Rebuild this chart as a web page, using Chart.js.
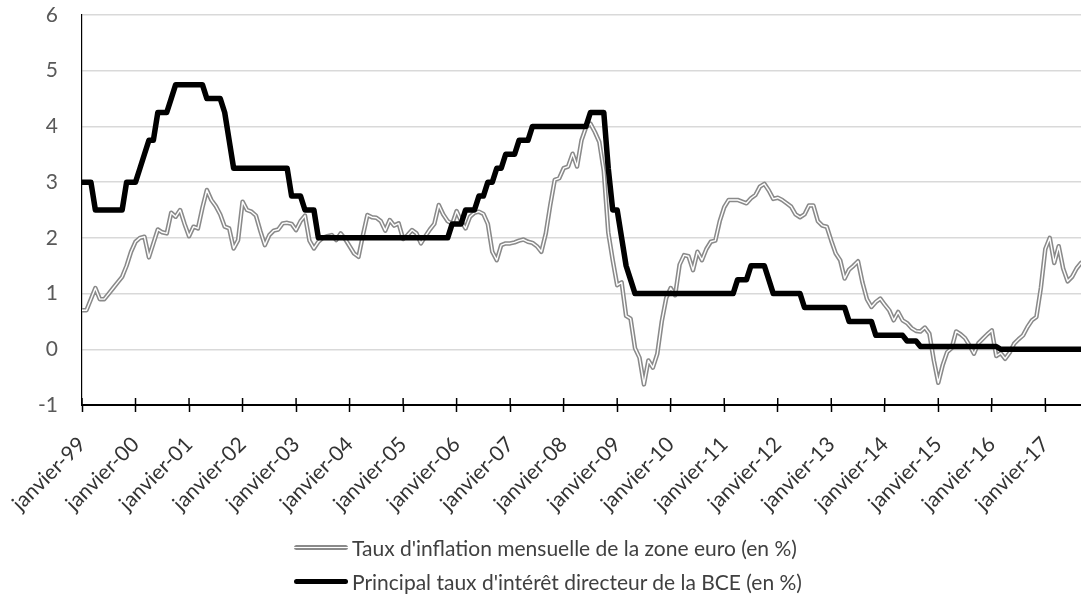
<!DOCTYPE html>
<html lang="fr">
<head>
<meta charset="utf-8">
<title>Inflation zone euro et taux directeur BCE</title>
<script src="https://cdn.jsdelivr.net/npm/chart.js@4.4.1/dist/chart.umd.min.js"></script>
<style>
  html, body { margin: 0; padding: 0; background: #fff; }
  #wrap { position: relative; width: 1081px; height: 607px; }
  #chart { display: block; }
  .legend { position: absolute; left: 294px; top: 0; font-family: Lato, sans-serif; font-size: 21px; color: #404040; }
  .legend .row { position: absolute; left: 0; height: 24px; white-space: nowrap; display: flex; align-items: center; }
  .legend .swatch { width: 54px; height: 5px; border-radius: 3px; margin-right: 4px; }
  .swatch.inflation { background: linear-gradient(#8a8a8a 0 33%, #fff 33% 67%, #8a8a8a 67%); }
  .swatch.bce { background: #000; }
</style>
</head>
<body>
<div id="wrap">
  <canvas id="chart" width="1081" height="607"></canvas>
  <div class="legend">
    <div class="row" style="top:535px"><span class="swatch inflation"></span><span>Taux d'inflation mensuelle de la zone euro (en %)</span></div>
    <div class="row" style="top:569px"><span class="swatch bce"></span><span>Principal taux d'intérêt directeur de la BCE (en %)</span></div>
  </div>
</div>
<script>
// mois de janvier 1999 a septembre 2017
const years = [1999, 2000, 2001, 2002, 2003, 2004, 2005, 2006, 2007, 2008, 2009, 2010, 2011, 2012, 2013, 2014, 2015, 2016, 2017];
const monthNames = ['janvier', 'février', 'mars', 'avril', 'mai', 'juin', 'juillet', 'août', 'septembre', 'octobre', 'novembre', 'décembre'];
const yearTicks = ['janvier-99', 'janvier-00', 'janvier-01', 'janvier-02', 'janvier-03', 'janvier-04', 'janvier-05', 'janvier-06', 'janvier-07', 'janvier-08', 'janvier-09', 'janvier-10', 'janvier-11', 'janvier-12', 'janvier-13', 'janvier-14', 'janvier-15', 'janvier-16', 'janvier-17'];
const yTicks = [-1, 0, 1, 2, 3, 4, 5, 6];

// taux d'inflation mensuel (en %)
const inflation = [
  0.7, 0.7, 0.9, 1.1, 0.9, 0.9, 1.0, 1.1, 1.2, 1.3, 1.5, 1.75,
  1.93, 2.0, 2.02, 1.65, 1.9, 2.15, 2.1, 2.08, 2.45, 2.38, 2.5, 2.25,
  2.03, 2.2, 2.17, 2.54, 2.86, 2.68, 2.57, 2.42, 2.2, 2.17, 1.81, 1.96,
  2.65, 2.5, 2.47, 2.4, 2.12, 1.87, 2.05, 2.13, 2.15, 2.26, 2.27, 2.25,
  2.14, 2.3, 2.4, 1.95, 1.81, 1.93, 2.0, 2.03, 2.05, 1.96, 2.08, 1.98,
  1.85, 1.72, 1.66, 2.05, 2.41, 2.37, 2.36, 2.3, 2.13, 2.32, 2.22, 2.26,
  1.98, 2.05, 2.14, 2.08, 1.9, 2.03, 2.15, 2.25, 2.59, 2.42, 2.3, 2.25,
  2.48, 2.3, 2.17, 2.38, 2.45, 2.47, 2.43, 2.25, 1.75, 1.6, 1.87, 1.9,
  1.9, 1.92, 1.95, 1.97, 1.93, 1.91, 1.85, 1.75, 2.08, 2.59, 3.04, 3.07,
  3.25, 3.28, 3.51, 3.28, 3.75, 3.98, 4.05, 3.9, 3.72, 3.2, 2.1, 1.6,
  1.15, 1.2, 0.6, 0.55, 0.02, -0.15, -0.63, -0.2, -0.33, -0.08, 0.5, 0.92,
  1.1, 0.97, 1.52, 1.69, 1.67, 1.42, 1.75, 1.6, 1.8, 1.93, 1.95, 2.3,
  2.55, 2.68, 2.68, 2.68, 2.65, 2.62, 2.71, 2.77, 2.92, 2.97, 2.85, 2.7,
  2.72, 2.68, 2.62, 2.56, 2.42, 2.37, 2.42, 2.58, 2.58, 2.3, 2.22, 2.2,
  1.95, 1.72, 1.6, 1.27, 1.43, 1.5, 1.58, 1.2, 0.9, 0.76, 0.85, 0.91,
  0.8, 0.7, 0.52, 0.67, 0.52, 0.47, 0.38, 0.33, 0.32, 0.39, 0.28, -0.2,
  -0.6, -0.28, -0.05, 0.02, 0.32, 0.27, 0.2, 0.07, -0.08, 0.11, 0.19, 0.27,
  0.34, -0.12, -0.07, -0.17, -0.06, 0.1, 0.18, 0.25, 0.4, 0.52, 0.58, 1.1,
  1.8, 2.0, 1.55, 1.85, 1.45, 1.22, 1.3, 1.45, 1.55
];

// principal taux directeur de la BCE (en %)
const bce = [
  3.0, 3.0, 3.0, 2.5, 2.5, 2.5, 2.5, 2.5, 2.5, 2.5, 3.0, 3.0,
  3.0, 3.25, 3.5, 3.75, 3.75, 4.25, 4.25, 4.25, 4.5, 4.75, 4.75, 4.75,
  4.75, 4.75, 4.75, 4.75, 4.5, 4.5, 4.5, 4.5, 4.25, 3.75, 3.25, 3.25,
  3.25, 3.25, 3.25, 3.25, 3.25, 3.25, 3.25, 3.25, 3.25, 3.25, 3.25, 2.75,
  2.75, 2.75, 2.5, 2.5, 2.5, 2.0, 2.0, 2.0, 2.0, 2.0, 2.0, 2.0,
  2.0, 2.0, 2.0, 2.0, 2.0, 2.0, 2.0, 2.0, 2.0, 2.0, 2.0, 2.0,
  2.0, 2.0, 2.0, 2.0, 2.0, 2.0, 2.0, 2.0, 2.0, 2.0, 2.0, 2.25,
  2.25, 2.25, 2.5, 2.5, 2.5, 2.75, 2.75, 3.0, 3.0, 3.25, 3.25, 3.5,
  3.5, 3.5, 3.75, 3.75, 3.75, 4.0, 4.0, 4.0, 4.0, 4.0, 4.0, 4.0,
  4.0, 4.0, 4.0, 4.0, 4.0, 4.0, 4.25, 4.25, 4.25, 4.25, 3.25, 2.5,
  2.5, 2.0, 1.5, 1.25, 1.0, 1.0, 1.0, 1.0, 1.0, 1.0, 1.0, 1.0,
  1.0, 1.0, 1.0, 1.0, 1.0, 1.0, 1.0, 1.0, 1.0, 1.0, 1.0, 1.0,
  1.0, 1.0, 1.0, 1.25, 1.25, 1.25, 1.5, 1.5, 1.5, 1.5, 1.25, 1.0,
  1.0, 1.0, 1.0, 1.0, 1.0, 1.0, 0.75, 0.75, 0.75, 0.75, 0.75, 0.75,
  0.75, 0.75, 0.75, 0.75, 0.5, 0.5, 0.5, 0.5, 0.5, 0.5, 0.25, 0.25,
  0.25, 0.25, 0.25, 0.25, 0.25, 0.15, 0.15, 0.15, 0.05, 0.05, 0.05, 0.05,
  0.05, 0.05, 0.05, 0.05, 0.05, 0.05, 0.05, 0.05, 0.05, 0.05, 0.05, 0.05,
  0.05, 0.05, 0.0, 0.0, 0.0, 0.0, 0.0, 0.0, 0.0, 0.0, 0.0, 0.0,
  0.0, 0.0, 0.0, 0.0, 0.0, 0.0, 0.0, 0.0, 0.0
];

const months = years.flatMap(y => monthNames.map(m => m + '-' + String(y).slice(2))).slice(0, inflation.length);
const lastIdx = months.length - 1;

const toPoints = arr => arr.map((v, i) => ({ x: i, y: v }));
const isYearTick = v => v % 12 === 0;

// petits traits de graduation qui traversent l'axe (comme Excel)
const crossTicks = {
  id: 'crossTicks',
  afterDraw(chart) {
    const { ctx, chartArea, scales: { x } } = chart;
    ctx.save();
    ctx.strokeStyle = '#000';
    ctx.lineWidth = 1.5;
    x.ticks.forEach(t => {
      if (!isYearTick(t.value)) return;
      const px = x.getPixelForValue(t.value);
      ctx.beginPath();
      ctx.moveTo(px, chartArea.bottom);
      ctx.lineTo(px, chartArea.bottom - 7);
      ctx.stroke();
    });
    ctx.restore();
  }
};

const common = { pointRadius: 0, tension: 0, fill: false, borderJoinStyle: 'round', borderCapStyle: 'round' };

const ctx = document.getElementById('chart').getContext('2d');
const chart = new Chart(ctx, {
  type: 'line',
  data: {
    labels: months,
    datasets: [
      { ...common, label: "Principal taux d'intérêt directeur de la BCE (en %)", data: toPoints(bce), borderColor: '#000', borderWidth: 5.5, order: 0 },
      { ...common, label: 'inflation (trait intérieur)', data: toPoints(inflation), borderColor: '#fff', borderWidth: 1.4, order: 1 },
      { ...common, label: "Taux d'inflation mensuelle de la zone euro (en %)", data: toPoints(inflation), borderColor: '#8a8a8a', borderWidth: 4.5, order: 2 }
    ]
  },
  options: {
    responsive: false,
    animation: false,
    events: [],
    layout: { padding: { top: 15, right: 0, bottom: 0, left: 0 } },
    plugins: {
      legend: { display: false },
      tooltip: { enabled: false }
    },
    scales: {
      x: {
        type: 'linear',
        min: 0,
        max: lastIdx,
        afterFit: function (s) {
          s.height = 202;
          s.paddingLeft = 0;
          s.paddingRight = 0;
        },
        grid: {
          drawOnChartArea: false,
          drawTicks: true,
          tickLength: 7,
          tickWidth: 1.5,
          color: 'rgba(0,0,0,0)',
          tickColor: c => (c.tick && isYearTick(c.tick.value)) ? '#000' : 'rgba(0,0,0,0)'
        },
        border: { display: true, color: '#000', width: 2 },
        ticks: {
          stepSize: 12,
          autoSkip: false,
          minRotation: 45,
          maxRotation: 45,
          padding: 20,
          color: '#333',
          font: { family: 'Lato', size: 21 },
          callback: v => isYearTick(v) ? yearTicks[v / 12] : ''
        }
      },
      y: {
        min: yTicks[0],
        max: yTicks[yTicks.length - 1],
        afterFit: function (s) {
          s.width = 82;
          s.paddingTop = 0;
          s.paddingBottom = 0;
        },
        grid: { color: '#d9d9d9', lineWidth: 1.5, drawTicks: false },
        border: { display: true, color: '#000', width: 1.2 },
        ticks: {
          stepSize: 1,
          padding: 24,
          color: '#595959',
          font: { family: 'Lato', size: 21 }
        }
      }
    }
  },
  plugins: [crossTicks]
});
</script>
</body>
</html>
